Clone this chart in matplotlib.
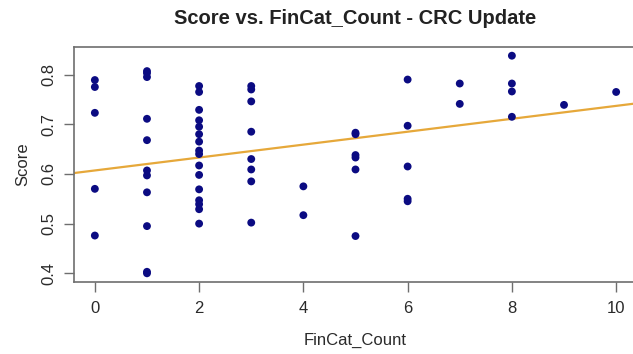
import numpy as np
import matplotlib
matplotlib.use("Agg")
import matplotlib.pyplot as plt

plt.rcParams['font.family'] = ['Liberation Sans', 'DejaVu Sans']

# FinCat_Count values and the matching scores, grouped by count
fincat_count = (
    [0] * 5 +
    [1] * 11 +
    [2] * 16 +
    [3] * 8 +
    [4] * 2 +
    [5] * 6 +
    [6] * 5 +
    [7] * 2 +
    [8] * 4 +
    [9] * 1 +
    [10] * 1
)
score = (
    [0.789, 0.775, 0.723, 0.570, 0.476] +
    [0.807, 0.803, 0.795, 0.711, 0.668, 0.607, 0.597, 0.563, 0.495, 0.403, 0.400] +
    [0.777, 0.765, 0.729, 0.708, 0.695, 0.680, 0.665, 0.647, 0.640, 0.617,
     0.598, 0.569, 0.547, 0.539, 0.529, 0.500] +
    [0.777, 0.770, 0.746, 0.685, 0.630, 0.609, 0.585, 0.502] +
    [0.575, 0.517] +
    [0.683, 0.680, 0.638, 0.633, 0.609, 0.475] +
    [0.790, 0.697, 0.615, 0.550, 0.545] +
    [0.782, 0.741] +
    [0.838, 0.782, 0.766, 0.715] +
    [0.739] +
    [0.765]
)

# Linear trend line (intercept, slope)
fit_intercept = 0.607
fit_slope = 0.0130

x_ticks = [0, 2, 4, 6, 8, 10]
y_ticks = [0.4, 0.5, 0.6, 0.7, 0.8]

W, H = 633, 354
fig = plt.figure(figsize=(W / 100, H / 100), dpi=100)
left, right, top, bottom = 74, 637, 47, 282
ax = fig.add_axes([left / W, 1 - bottom / H, (right - left) / W, (bottom - top) / H])

x = np.array(fincat_count, dtype=float)
y = np.array(score)

ax.scatter(x, y, s=32, color='#0B0B82', edgecolors='none', zorder=3)

xmin, xmax = x.min(), x.max()
ymin, ymax = y.min(), y.max()
xpad = 0.04 * (xmax - xmin)
ypad = 0.04 * (ymax - ymin)
ax.set_xlim(xmin - xpad, xmax + xpad)
ax.set_ylim(ymin - ypad, ymax + ypad)

xl = np.array(ax.get_xlim())
ax.plot(xl, fit_intercept + fit_slope * xl, color='#E6A83A', lw=1.6, zorder=2)

ax.set_xticks(x_ticks)
ax.set_xticklabels([str(t) for t in x_ticks])
ax.set_yticks(y_ticks)
ax.set_yticklabels([f"{t:.1f}" for t in y_ticks], rotation=90, va='center')

for sp in ax.spines.values():
    sp.set_color('#6E6E6E')
    sp.set_linewidth(1.2)
ax.tick_params(axis='both', length=7, width=1.0, color='#6E6E6E',
               labelsize=12, labelcolor='#2A2A2A', pad=6)
ax.tick_params(axis='x', pad=7)

ax.set_xlabel('FinCat_Count', fontsize=12, color='#2A2A2A', labelpad=12)
ax.set_ylabel('Score', fontsize=12, color='#2A2A2A', labelpad=8)

fig.text((left + right) / 2 / W, 1 - 18 / H, 'Score vs. FinCat_Count - CRC Update',
         ha='center', va='center', fontsize=14.5, fontweight='bold', color='#222222')

fig.savefig('out.png', dpi=100)
